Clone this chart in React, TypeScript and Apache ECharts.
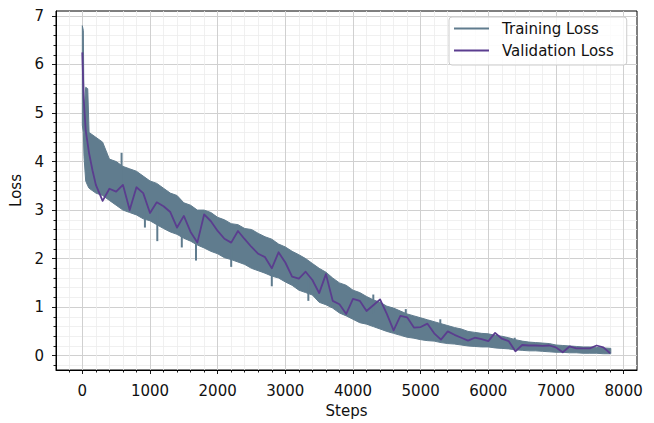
import React, { useEffect, useRef } from 'react';
import * as echarts from 'echarts';

// Training loss envelope sampled at these steps: lower and upper edge of the noisy curve.
const trainSteps = [
  0, 15, 25, 50, 80, 100, 200,
  300, 400, 500, 600, 700, 800, 900,
  1000, 1100, 1200, 1300, 1400, 1500, 1600, 1700, 1800, 1900,
  2000, 2100, 2200, 2300, 2400, 2500, 2600, 2700, 2800, 2900,
  3000, 3100, 3200, 3300, 3400, 3500, 3600, 3700, 3800, 3900,
  4000, 4100, 4200, 4300, 4400, 4500, 4600, 4700, 4800, 4900,
  5000, 5100, 5200, 5300, 5400, 5500, 5600, 5700, 5800, 5900,
  6000, 6100, 6200, 6300, 6400, 6500, 6600, 6700, 6800, 6900,
  7000, 7100, 7200, 7300, 7400, 7500, 7600, 7700, 7810,
];
const trainHigh = [
  6.8, 6.7, 5.0, 5.53, 5.5, 4.6, 4.5,
  4.4, 4.05, 4.0, 3.9, 3.85, 3.8, 3.7,
  3.6, 3.55, 3.45, 3.35, 3.3, 3.15, 3.1, 3.0, 3.0, 2.95,
  2.85, 2.8, 2.72, 2.7, 2.62, 2.6, 2.52, 2.45, 2.4, 2.3,
  2.24, 2.15, 2.08, 2.0, 1.9, 1.8, 1.72, 1.6, 1.5, 1.45,
  1.35, 1.3, 1.22, 1.15, 1.1, 1.02, 0.98, 0.92, 0.86, 0.82,
  0.78, 0.74, 0.7, 0.66, 0.62, 0.58, 0.55, 0.5, 0.48, 0.46,
  0.45, 0.42, 0.4, 0.37, 0.33, 0.3, 0.28, 0.27, 0.26, 0.25,
  0.22, 0.21, 0.2, 0.19, 0.18, 0.18, 0.17, 0.16, 0.15,
];
const trainLow = [
  4.75, 4.6, 4.1, 3.6, 3.5, 3.45, 3.35,
  3.3, 3.2, 3.1, 3.0, 2.95, 2.9, 2.82,
  2.78, 2.7, 2.62, 2.55, 2.5, 2.42, 2.36, 2.28, 2.22, 2.15,
  2.1, 2.02, 1.98, 1.93, 1.88, 1.8, 1.75, 1.7, 1.64, 1.6,
  1.52, 1.45, 1.35, 1.3, 1.25, 1.1, 1.05, 0.98, 0.88, 0.82,
  0.75, 0.68, 0.65, 0.6, 0.55, 0.5, 0.46, 0.42, 0.38, 0.36,
  0.33, 0.31, 0.3, 0.27, 0.25, 0.24, 0.22, 0.2, 0.19, 0.18,
  0.18, 0.16, 0.15, 0.14, 0.12, 0.11, 0.1, 0.1, 0.09, 0.08,
  0.07, 0.07, 0.06, 0.06, 0.05, 0.05, 0.05, 0.04, 0.04,
];

// Isolated training-loss spikes outside the envelope (step, loss).
const spikeSteps = [580, 925, 1108, 1470, 1680, 2200, 2790, 2800, 3010, 3340, 3600, 4300, 4780, 5290, 6390];
const spikeLoss = [4.18, 2.64, 2.36, 2.23, 1.96, 1.83, 1.9, 1.43, 1.56, 1.13, 1.71, 1.26, 0.96, 0.75, 0.37];

// Validation loss at its evaluation steps.
const valSteps = [
  0, 20, 50, 100, 150, 200, 300, 400, 500, 600, 700, 800, 900,
  1000, 1100, 1200, 1300, 1400, 1500, 1600, 1700, 1800, 1900,
  2000, 2100, 2200, 2300, 2400, 2500, 2600, 2700, 2800, 2900,
  3000, 3100, 3200, 3300, 3400, 3500, 3600, 3700, 3800, 3900,
  4000, 4100, 4200, 4300, 4400, 4500, 4600, 4700, 4800, 4900,
  5000, 5100, 5200, 5300, 5400, 5500, 5600, 5700, 5800, 5900,
  6000, 6100, 6200, 6300, 6400, 6500, 6600, 6700, 6800, 6900,
  7000, 7100, 7200, 7300, 7400, 7500, 7600, 7700, 7800,
];
const valLoss = [
  6.25, 5.3, 4.64, 4.17, 3.82, 3.52, 3.19, 3.44, 3.38, 3.52, 3.0, 3.47, 3.35,
  2.94, 3.16, 3.08, 2.96, 2.64, 2.88, 2.55, 2.33, 2.91, 2.77,
  2.57, 2.41, 2.33, 2.57, 2.4, 2.24, 2.1, 2.03, 1.8, 2.13,
  1.92, 1.63, 1.59, 1.73, 1.56, 1.29, 1.68, 1.13, 1.06, 0.86,
  1.17, 1.13, 0.92, 1.04, 1.16, 0.86, 0.52, 0.82, 0.79, 0.58,
  0.59, 0.66, 0.46, 0.33, 0.5, 0.43, 0.37, 0.31, 0.37, 0.34,
  0.3, 0.47, 0.35, 0.3, 0.09, 0.22, 0.21, 0.21, 0.2, 0.21,
  0.17, 0.07, 0.19, 0.15, 0.15, 0.15, 0.21, 0.17, 0.05,
];

const xTicks = [0, 1000, 2000, 3000, 4000, 5000, 6000, 7000, 8000];
const yTicks = [0, 1, 2, 3, 4, 5, 6, 7];

const TRAIN_COLOR = '#607c8e';
const VAL_COLOR = '#5b3d8f';
const FONT = 'DejaVu Sans';
const TEXT_COLOR = '#111';

export default function App() {
  const ref = useRef<HTMLDivElement>(null);

  useEffect(() => {
    if (!ref.current) return;
    const chart = echarts.init(ref.current, null, { renderer: 'svg' });

    const bandData = trainSteps.map((s, i) => [s, trainLow[i], trainHigh[i]]);
    // each spike runs from its loss back into the body of the band
    const spikeData = spikeSteps.map((s, i) => {
      let b = 0;
      while (b + 1 < trainSteps.length && trainSteps[b + 1] <= s) b++;
      return [s, spikeLoss[i], (trainLow[b] + trainHigh[b]) / 2];
    });
    const valData = valSteps.map((s, i) => [s, valLoss[i]]);

    const tickStyle = { color: '#000', width: 0.9 };

    chart.setOption({
      animation: false,
      backgroundColor: '#fff',
      textStyle: { fontFamily: FONT },
      grid: {
        left: 56,
        right: 17,
        top: 11,
        bottom: 44,
        show: true,
        borderColor: '#000',
        borderWidth: 1,
        backgroundColor: 'transparent',
      },
      legend: {
        left: 449,
        top: 17,
        orient: 'vertical',
        itemWidth: 35,
        itemHeight: 14,
        itemGap: 7,
        padding: [4, 13, 7, 4],
        backgroundColor: 'rgba(255,255,255,0.8)',
        borderColor: '#cccccc',
        borderWidth: 1,
        borderRadius: 3,
        itemStyle: { opacity: 0 },
        textStyle: {
          fontFamily: FONT,
          fontSize: 15,
          color: TEXT_COLOR,
          lineHeight: 14,
          padding: [0, 0, 0, 8],
        },
        data: ['Training Loss', 'Validation Loss'],
      },
      xAxis: {
        type: 'value',
        min: -389,
        max: 8197,
        splitNumber: 9,
        minInterval: 1000,
        maxInterval: 1000,
        name: 'Steps',
        nameLocation: 'middle',
        nameGap: 33,
        nameTextStyle: { fontFamily: FONT, fontSize: 15, color: TEXT_COLOR },
        axisLine: { show: true, onZero: false, lineStyle: { color: '#000', width: 1 } },
        axisTick: { show: true, length: 4, lineStyle: tickStyle, customValues: xTicks },
        minorTick: { show: true, splitNumber: 5, length: 2.5, lineStyle: tickStyle },
        axisLabel: {
          margin: 13,
          fontFamily: FONT,
          fontSize: 15,
          color: TEXT_COLOR,
          customValues: xTicks,
          formatter: (v: number) => (xTicks.includes(v) ? String(v) : ''),
        },
        splitLine: { show: true, lineStyle: { color: '#d0d0d0', width: 1 } },
        minorSplitLine: { show: true, lineStyle: { color: '#ececec', width: 0.8 } },
      },
      yAxis: {
        type: 'value',
        min: -0.295,
        max: 7.102,
        splitNumber: 7,
        minInterval: 1,
        maxInterval: 1,
        name: 'Loss',
        nameLocation: 'middle',
        nameRotate: 90,
        nameGap: 24,
        nameTextStyle: { fontFamily: FONT, fontSize: 15, color: TEXT_COLOR },
        axisLine: { show: true, onZero: false, lineStyle: { color: '#000', width: 1 } },
        axisTick: { show: true, length: 4, lineStyle: tickStyle, customValues: yTicks },
        minorTick: { show: true, splitNumber: 5, length: 2.5, lineStyle: tickStyle },
        axisLabel: {
          margin: 12,
          fontFamily: FONT,
          fontSize: 15,
          color: TEXT_COLOR,
          customValues: yTicks,
          formatter: (v: number) => (yTicks.includes(v) ? String(v) : ''),
        },
        splitLine: { show: true, lineStyle: { color: '#d0d0d0', width: 1 } },
        minorSplitLine: { show: true, lineStyle: { color: '#ececec', width: 0.8 } },
      },
      series: [
        {
          // carries the legend entry for the training curve
          name: 'Training Loss',
          type: 'line',
          data: [],
          symbol: 'none',
          lineStyle: { color: TRAIN_COLOR, width: 1.8 },
          itemStyle: { color: TRAIN_COLOR },
        },
        {
          // the whole envelope as one polygon: upper edge forward, lower edge back
          name: 'Training Loss',
          type: 'custom',
          data: bandData,
          encode: { x: 0, y: [1, 2] },
          silent: true,
          clip: true,
          z: 2,
          renderItem: (params: any, api: any) => {
            if (params.dataIndex !== 0) return null;
            const upper = trainSteps.map((s, i) => api.coord([s, trainHigh[i]]));
            const lower = trainSteps.map((s, i) => api.coord([s, trainLow[i]])).reverse();
            return {
              type: 'polygon',
              shape: { points: upper.concat(lower) },
              style: { fill: TRAIN_COLOR, stroke: TRAIN_COLOR, lineWidth: 1, lineJoin: 'round' },
            };
          },
        },
        {
          name: 'Training Loss',
          type: 'custom',
          data: spikeData,
          encode: { x: 0, y: [1, 2] },
          silent: true,
          clip: true,
          z: 2,
          renderItem: (_params: any, api: any) => {
            const a = api.coord([api.value(0), api.value(1)]);
            const b = api.coord([api.value(0), api.value(2)]);
            return {
              type: 'line',
              shape: { x1: a[0], y1: a[1], x2: b[0], y2: b[1] },
              style: { stroke: TRAIN_COLOR, lineWidth: 2 },
            };
          },
        },
        {
          name: 'Validation Loss',
          type: 'line',
          data: valData,
          symbol: 'none',
          silent: true,
          z: 3,
          lineStyle: { color: VAL_COLOR, width: 1.8, join: 'round' },
          itemStyle: { color: VAL_COLOR },
        },
      ],
    });

    return () => chart.dispose();
  }, []);

  return (
    <div
      ref={ref}
      style={{ position: 'fixed', left: 0, top: 0, width: 654, height: 423, background: '#fff' }}
    />
  );
}
